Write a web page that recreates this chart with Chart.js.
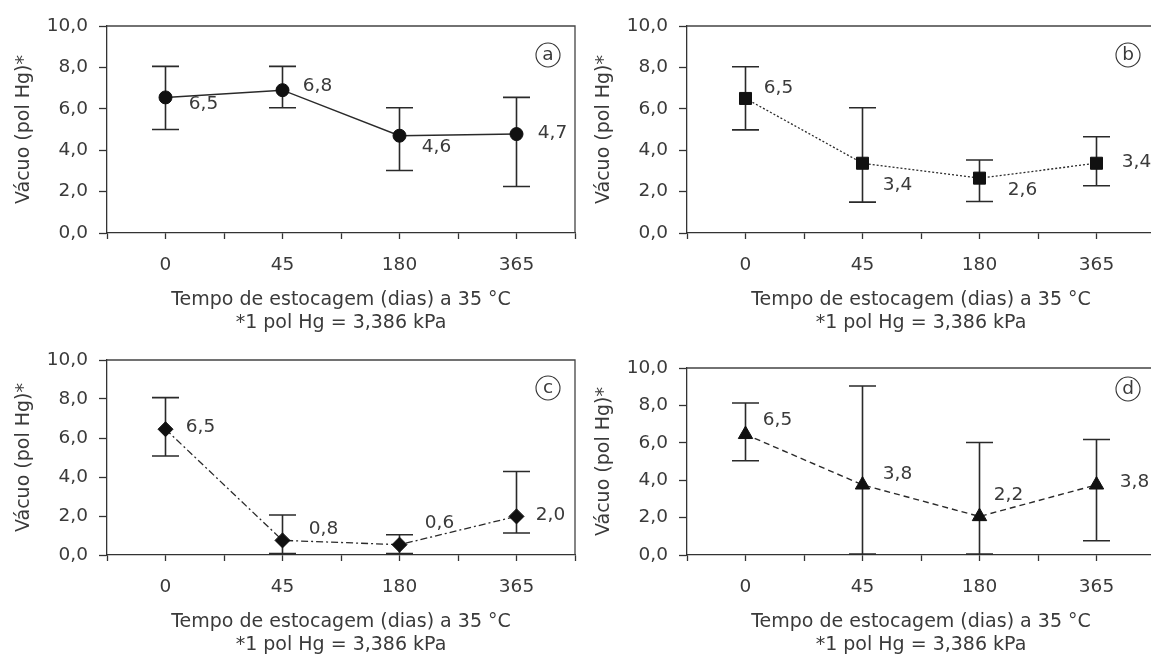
<!DOCTYPE html>
<html>
<head>
<meta charset="utf-8">
<script src="https://cdn.jsdelivr.net/npm/chart.js@4.4.1/dist/chart.umd.min.js"></script>
<style>
  html, body { margin: 0; padding: 0; background: #fff; overflow: hidden; width: 1151px; height: 657px; }
  .panel { position: absolute; }
</style>
</head>
<body>
<div class="panel" style="left:0;top:0"><canvas id="chartA" width="590" height="340"></canvas></div>
<div class="panel" style="left:580px;top:0"><canvas id="chartB" width="590" height="340"></canvas></div>
<div class="panel" style="left:0;top:335px"><canvas id="chartC" width="590" height="327"></canvas></div>
<div class="panel" style="left:580px;top:335px"><canvas id="chartD" width="590" height="327"></canvas></div>
<script>
// storage time (days) at 35 °C
const days = ['0', '45', '180', '365'];
const xTitle = ['Tempo de estocagem (dias) a 35 °C', '*1 pol Hg = 3,386 kPa'];
const yTitle = 'Vácuo (pol Hg)*';

// (a)
const vacuoA = [6.55, 6.9, 4.7, 4.78];
const lowA = [5.0, 6.05, 3.02, 2.25];
const highA = [8.05, 8.05, 6.05, 6.55];
const textA = ['6,5', '6,8', '4,6', '4,7'];

// (b)
const vacuoB = [6.5, 3.37, 2.65, 3.37];
const lowB = [4.98, 1.49, 1.52, 2.28];
const highB = [8.03, 6.05, 3.53, 4.65];
const textB = ['6,5', '3,4', '2,6', '3,4'];

// (c)
const vacuoC = [6.45, 0.75, 0.53, 1.98];
const lowC = [5.08, 0.07, 0.07, 1.13];
const highC = [8.07, 2.05, 1.04, 4.28];
const textC = ['6,5', '0,8', '0,6', '2,0'];

// (d)
const vacuoD = [6.45, 3.75, 2.06, 3.75];
const lowD = [5.04, 0.05, 0.05, 0.76];
const highD = [8.13, 9.04, 6.02, 6.18];
const textD = ['6,5', '3,8', '2,2', '3,8'];

const ink = '#2a2a2a';
Chart.defaults.font.family = '"DejaVu Sans", sans-serif';
Chart.defaults.font.size = 18;
Chart.defaults.color = '#3a3a3a';

const panels = [
  { id: 'chartA', letter: 'a', values: vacuoA, low: lowA, high: highA, text: textA,
    point: 'circle', radius: 6.5, dash: [], lineWidth: 1.5, top: 26, right: 10, letterY: 29,
    offsets: [[38, 7], [35, -4], [37, 11], [36, -1]] },
  { id: 'chartB', letter: 'b', values: vacuoB, low: lowB, high: highB, text: textB,
    point: 'rect', radius: 8.5, dash: [2, 2], lineWidth: 1.3, top: 26, right: 12, letterY: 29,
    offsets: [[33, -10], [35, 22], [43, 12], [40, -1]] },
  { id: 'chartC', letter: 'c', values: vacuoC, low: lowC, high: highC, text: textC,
    point: 'rectRot', radius: 7.5, dash: [7, 3, 2, 3], lineWidth: 1.3, top: 25, right: 10, letterY: 28,
    offsets: [[35, -2], [41, -11], [40, -21], [34, -1]] },
  { id: 'chartD', letter: 'd', values: vacuoD, low: lowD, high: highD, text: textD,
    point: 'triangle', radius: 8.3, dash: [6, 4], lineWidth: 1.4, top: 33, right: 12, letterY: 21,
    offsets: [[32, -14], [35, -11], [29, -21], [38, -3]] }
];

const extras = {
  id: 'extras',
  beforeDatasetsDraw(chart, args, opts) {
    const { ctx, chartArea: a, scales: { x, y } } = chart;
    const p = opts.panel;
    ctx.save();
    // top and right frame
    ctx.strokeStyle = '#444';
    ctx.lineWidth = 1.3;
    ctx.beginPath();
    ctx.moveTo(a.left, a.top);
    ctx.lineTo(a.right, a.top);
    ctx.lineTo(a.right, a.bottom);
    ctx.stroke();
    // error bars
    ctx.strokeStyle = ink;
    ctx.lineWidth = 1.6;
    p.values.forEach((v, i) => {
      const px = x.getPixelForValue(i);
      const yl = y.getPixelForValue(p.low[i]);
      const yh = y.getPixelForValue(p.high[i]);
      ctx.beginPath();
      ctx.moveTo(px, yl); ctx.lineTo(px, yh);
      ctx.moveTo(px - 13.5, yl); ctx.lineTo(px + 13.5, yl);
      ctx.moveTo(px - 13.5, yh); ctx.lineTo(px + 13.5, yh);
      ctx.stroke();
    });
    ctx.restore();
  },
  afterDatasetsDraw(chart, args, opts) {
    const { ctx, chartArea: a, scales: { x, y } } = chart;
    const p = opts.panel;
    ctx.save();
    ctx.fillStyle = '#3a3a3a';
    ctx.font = '18.5px "DejaVu Sans", sans-serif';
    ctx.textAlign = 'center';
    ctx.textBaseline = 'middle';
    p.values.forEach((v, i) => {
      const [dx, dy] = p.offsets[i];
      ctx.fillText(p.text[i], x.getPixelForValue(i) + dx, y.getPixelForValue(v) + dy);
    });
    // panel letter in a circle
    const cx = a.right - 27, cy = a.top + p.letterY;
    ctx.strokeStyle = '#333';
    ctx.lineWidth = 1.1;
    ctx.beginPath();
    ctx.arc(cx, cy, 12, 0, Math.PI * 2);
    ctx.stroke();
    ctx.fillText(p.letter, cx, cy);
    ctx.restore();
  }
};

panels.forEach(p => {
  new Chart(document.getElementById(p.id), {
    type: 'line',
    data: {
      datasets: [{
        data: p.values.map((v, i) => ({ x: i, y: v })),
        borderColor: ink,
        borderWidth: p.lineWidth,
        borderDash: p.dash,
        pointStyle: p.point,
        pointRadius: p.radius,
        pointBackgroundColor: '#111',
        pointBorderColor: '#111',
        pointBorderWidth: 1,
        tension: 0,
        clip: false
      }]
    },
    options: {
      responsive: false,
      animation: false,
      layout: { padding: { top: p.top, right: p.right, left: 0, bottom: 0 } },
      plugins: {
        legend: { display: false },
        tooltip: { enabled: false },
        extras: { panel: p }
      },
      scales: {
        x: {
          type: 'linear',
          min: -0.5,
          max: 3.5,
          afterFit: s => { s.height = 107; },
          ticks: {
            stepSize: 0.5,
            autoSkip: false,
            maxRotation: 0,
            padding: 15,
            font: { size: 18.5 },
            callback: v => Number.isInteger(v) ? days[v] : ''
          },
          grid: { drawOnChartArea: false, tickLength: 6, tickColor: '#333', tickWidth: 1.3 },
          border: { color: '#333', width: 1.3 },
          title: { display: true, text: xTitle, color: '#3a3a3a', font: { size: 19, lineHeight: 1.2 }, padding: { top: 0, bottom: 6 } }
        },
        y: {
          min: 0,
          max: 10,
          afterFit: s => { s.width = 107; },
          ticks: {
            stepSize: 2,
            padding: 11,
            font: { size: 18.5 },
            callback: v => v.toFixed(1).replace('.', ',')
          },
          grid: { drawOnChartArea: false, tickLength: 8, tickColor: '#333', tickWidth: 1.3 },
          border: { color: '#333', width: 1.3 },
          title: { display: true, text: yTitle, color: '#3a3a3a', font: { size: 19 }, padding: { top: 13, bottom: 0 } }
        }
      }
    },
    plugins: [extras]
  });
});
</script>
</body>
</html>
